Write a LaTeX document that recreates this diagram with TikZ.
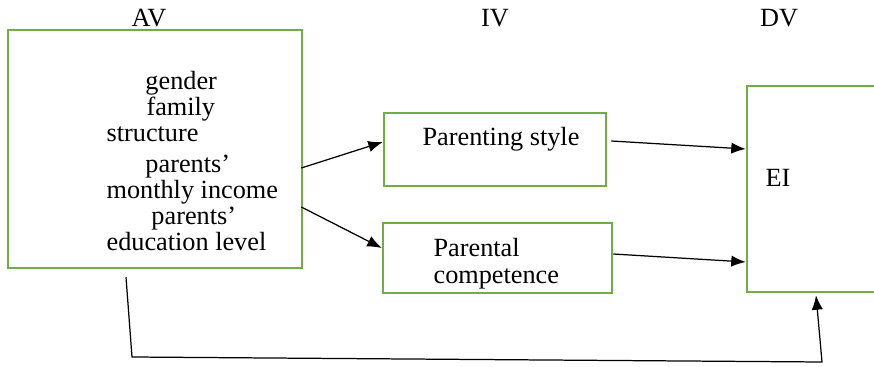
\documentclass[tikz,border=0pt]{standalone}
\usepackage{fontspec}
\setmainfont{Liberation Serif}
\usepackage{tikz}
\usetikzlibrary{arrows.meta,calc}
\definecolor{boxgreen}{rgb}{0.44, 0.68, 0.28}

\begin{document}
\begin{tikzpicture}[x=0.017cm,y=-0.017cm,>={Latex[length=7pt,width=5.5pt]},
  line width=0.6pt,font=\fontsize{12.7}{12.6}\selectfont,
  box node/.style={rectangle,draw=boxgreen,line width=1.2pt,inner sep=0pt},
  label node/.style={inner sep=0pt,anchor=base west}]
  \useasboundingbox (0,0) rectangle (874,367);
  \clip (0,0) rectangle (874,367);

  % column headings
  \node (avhead) at (149,18) {AV};
  \node (ivhead) at (495,18) {IV};
  \node (dvhead) at (779,18) {DV};

  % boxes
  \node[box node,minimum width=5cm,minimum height=4.046cm] (av) at (155,149) {};
  \node[box node,minimum width=3.774cm,minimum height=1.241cm] (ps) at (495,149.5) {};
  \node[box node,minimum width=3.893cm,minimum height=1.19cm] (pc) at (497.5,258) {};
  \node[box node,minimum width=2.941cm,minimum height=3.502cm] (ei) at (833.5,189) {};

  % texts
  \node[label node,align=left,anchor=north west] (avtext) at (106,70.5)
    {\hspace*{18.8pt}gender\\ \hspace*{19.3pt}family\\ structure\\[2.4pt]
     \hspace*{18.8pt}parents’\\ monthly income\\ \hspace*{21.7pt}parents’\\ education level};
  \node[label node] (pstext) at (422,146) {Parenting style};
  \node[label node,align=left,anchor=north west] (pctext) at (433,237.5) {Parental\\[0.5pt] competence};
  \node[label node] (eitext) at (765,187) {EI};

  % corners of the lower connector
  \coordinate (c1) at (132,357);
  \coordinate (c2) at (822,362);

  \draw[->] ($(av.east)+(-2,19)$) -- ($(ps.west)+(0,-7.5)$);
  \draw[->] ($(av.east)+(-2,58)$) -- ($(pc.west)+(0,-10)$);
  \draw[->] ($(ps.east)+(4,-8.5)$) -- ($(ei.west)+(0,-40)$);
  \draw[->] ($(pc.east)+(0,-4)$) -- ($(ei.west)+(0,73)$);
  \draw[->] ($(av.south)+(-29,8)$) -- (c1) -- (c2) -- ($(ei.south)+(-17.5,2)$);
\end{tikzpicture}
\end{document}
